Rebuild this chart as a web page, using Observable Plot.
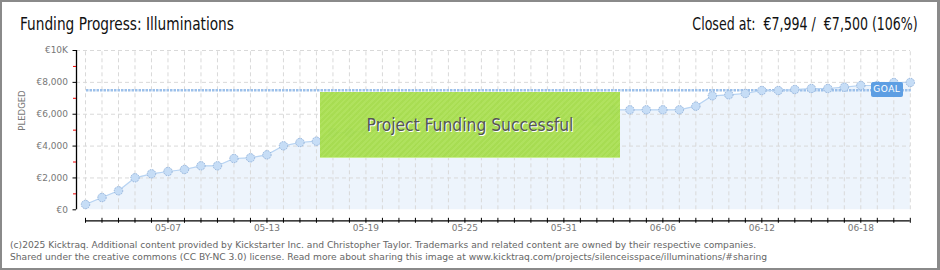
<!DOCTYPE html>
<html>
<head>
<meta charset="utf-8">
<script src="https://cdn.jsdelivr.net/npm/d3@7"></script>
<script src="https://cdn.jsdelivr.net/npm/@observablehq/plot@0.6"></script>
<style>
  html, body { margin: 0; padding: 0; background: #fff; }
  #wrap { position: relative; width: 940px; height: 270px; overflow: hidden; background: #fff; }
  #border { position: absolute; left: 0; top: 0; width: 940px; height: 270px; box-sizing: border-box;
            border-style: solid; border-color: #8a8a8a; border-width: 2px 3px 2px 2px; pointer-events: none; }
  .title { position: absolute; top: 14px; font-family: "DejaVu Sans Condensed", sans-serif;
           font-size: 17.5px; color: #111; white-space: nowrap; }
  #t1 { left: 20px; transform: scaleX(0.87); transform-origin: left center; }
  #t2 { right: 22px; transform: scaleX(0.8); transform-origin: right center; }
  #plot { position: absolute; left: 0; top: 0; }
  #success { position: absolute; left: 320px; top: 92px; width: 300px; height: 66px; box-sizing: border-box;
             background: repeating-linear-gradient(135deg, rgba(163,219,72,0.94) 0px, rgba(163,219,72,0.94) 2px, rgba(171,224,84,0.94) 2px, rgba(171,224,84,0.94) 4px);
             border-bottom: 1px solid #c8ee8e;
             display: flex; align-items: center; justify-content: center;
             font-family: "DejaVu Sans Condensed", sans-serif; font-size: 17.3px; color: #555;
             text-shadow: 1px 1px 0 #fff; }
  #goal { position: absolute; width: 32px; height: 15px; background: #5d9ee3; color: #fff; border-radius: 2px;
          font-family: "DejaVu Sans", sans-serif; font-size: 9px; line-height: 15px; text-align: center; letter-spacing: 0.5px; }
  .cap { position: absolute; left: 10px; font-family: "DejaVu Sans", sans-serif; font-size: 9.15px; color: #666; white-space: nowrap; }
</style>
</head>
<body>
<div id="wrap">
  <div class="title" id="t1">Funding Progress: Illuminations</div>
  <div class="title" id="t2">Closed at:&nbsp; €7,994 /&nbsp; €7,500 (106%)</div>
  <div id="plot"></div>
  <div id="success">Project Funding Successful</div>
  <div id="goal">GOAL</div>
  <div class="cap" style="top:240px">(c)2025 Kicktraq. Additional content provided by Kickstarter Inc. and Christopher Taylor. Trademarks and related content are owned by their respective companies.</div>
  <div class="cap" style="top:251.5px">Shared under the creative commons (CC BY-NC 3.0) license. Read more about sharing this image at www.kicktraq.com/projects/silenceisspace/illuminations/#sharing</div>
  <div id="border"></div>
</div>
<script>
// ---- data ----
const days = ["05-02","05-03","05-04","05-05","05-06","05-07","05-08","05-09","05-10","05-11",
  "05-12","05-13","05-14","05-15","05-16","05-17","05-18","05-19","05-20","05-21",
  "05-22","05-23","05-24","05-25","05-26","05-27","05-28","05-29","05-30","05-31",
  "06-01","06-02","06-03","06-04","06-05","06-06","06-07","06-08","06-09","06-10",
  "06-11","06-12","06-13","06-14","06-15","06-16","06-17","06-18","06-19","06-20","06-21"];
const pledged = [333, 772, 1193, 2009, 2260, 2404, 2530, 2762, 2762, 3220,
  3264, 3453, 4017, 4225, 4306, 4850, 4850, 4960, 5010, 5040,
  5080, 5120, 5150, 5190, 5240, 5280, 5330, 5380, 5420, 5480,
  5560, 5560, 6277, 6277, 6277, 6277, 6277, 6505, 7156, 7219,
  7300, 7489, 7489, 7552, 7615, 7615, 7697, 7803, 7803, 7990, 7994];
const goal = 7500;
const xTickLabels = ["05-07","05-13","05-19","05-25","05-31","06-06","06-12","06-18"];
const yMajor = [0, 2000, 4000, 6000, 8000, 10000];
const yMajorLabels = ["€0","€2,000","€4,000","€6,000","€8,000","€10K"];
const yMinor = [1000, 3000, 5000, 7000, 9000];

const parse = s => new Date(`2025-${s}T00:00:00Z`);
const data = days.map((d, i) => ({date: parse(d), value: pledged[i]}));
const dayDates = days.map(parse);
const labelDates = xTickLabels.map(parse);
const first = dayDates[0], last = dayDates[dayDates.length - 1];

const axisFont = {fontFamily: "DejaVu Sans, sans-serif", fontSize: 9};

const plot = Plot.plot({
  width: 940,
  height: 240,
  marginLeft: 76,
  marginRight: 30,
  marginTop: 50,
  marginBottom: 19.7,
  style: {background: "transparent", fontFamily: "DejaVu Sans, sans-serif", fontSize: "9px", color: "#777"},
  x: {type: "utc", domain: [first, last], range: [85, 909.8]},
  y: {domain: [0, 10000], range: [209.3, 50]},
  marks: [
    Plot.areaY(data, {x: "date", y: "value", fill: "#edf4fc"}),
    Plot.ruleX(dayDates, {x: d => d, y1: 0, y2: 10000, stroke: "#d9d9d9", strokeDasharray: "4,3"}),
    Plot.ruleY(yMajor.slice(1), {y: d => d, stroke: "#d9d9d9", strokeDasharray: "4,3"}),
    Plot.ruleY([goal], {y: d => d, x1: first, x2: last, stroke: "#9cc0ea", strokeWidth: 2.5, strokeDasharray: "2.5,1", dx: 1}),
    Plot.lineY(data, {x: "date", y: "value", stroke: "#b7d3f2", strokeWidth: 1.2}),
    Plot.dot(data, {x: "date", y: "value", r: 4.2, fill: "#c6ddf6", stroke: "#93b3db", strokeWidth: 1, strokeDasharray: "1.5,1"}),
    // y axis
    Plot.ruleX([first], {y1: 0, y2: 10000, dx: -9, stroke: "#000", strokeWidth: 1.3}),
    Plot.axisY(yMinor, {tickSize: 3, stroke: "#e00", tickFormat: () => "", label: null}),
    Plot.axisY(yMajor, {tickSize: 3.5, tickPadding: 5, stroke: "#000", tickFormat: (d, i) => yMajorLabels[i], fill: "#777", ...axisFont, label: null}),
    Plot.text(["PLEDGED"], {frameAnchor: "left", dx: -54, dy: -5, rotate: -90, fill: "#777", fontSize: 8.5, fontFamily: "DejaVu Sans, sans-serif", letterSpacing: 1}),
    // x axis
    Plot.ruleY([0], {x1: first, x2: last, dy: 11, stroke: "#000", strokeWidth: 1.3}),
    Plot.axisX(dayDates, {tickSize: 5, dy: -2.5, stroke: "#000", tickFormat: () => "", label: null}),
    Plot.axisX(labelDates, {tickSize: 0, tickPadding: 4, tickFormat: d3.utcFormat("%m-%d"), fill: "#777", ...axisFont, label: null})
  ]
});
document.getElementById("plot").appendChild(plot);

// place GOAL tag from the scales
const sx = plot.scale("x"), sy = plot.scale("y");
const g = document.getElementById("goal");
g.style.left = (sx.apply(last) - 39) + "px";
g.style.top = (sy.apply(goal) - 8) + "px";
</script>
</body>
</html>
